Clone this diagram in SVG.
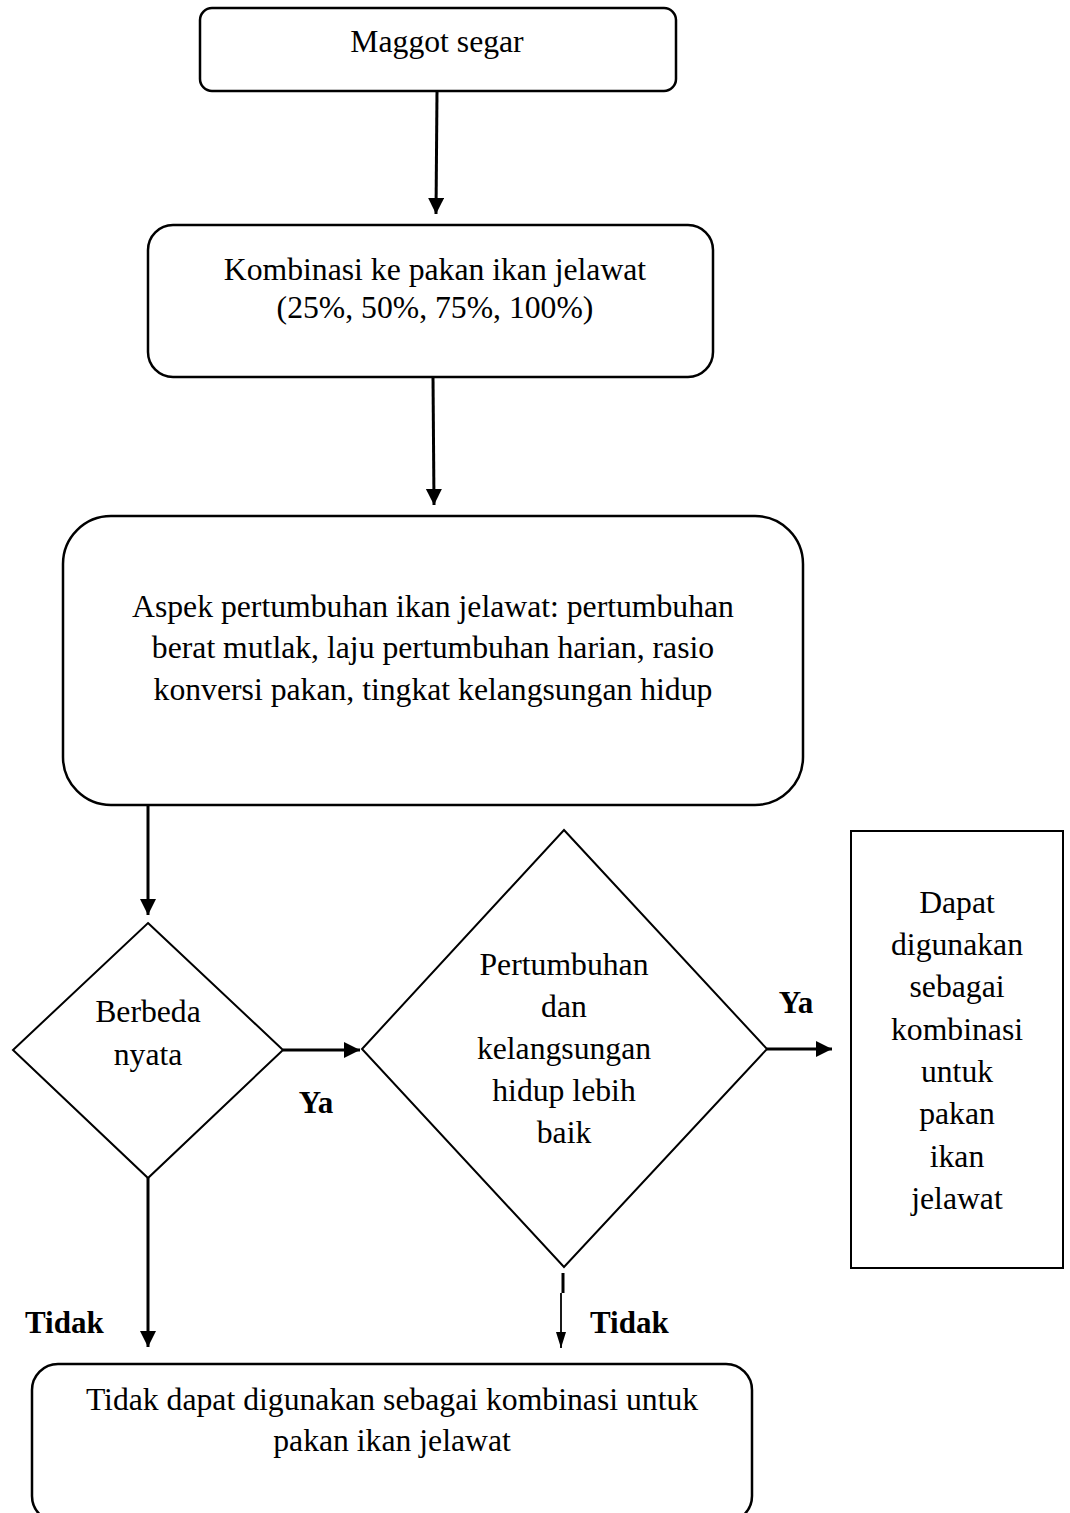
<svg xmlns="http://www.w3.org/2000/svg" width="1070" height="1513" viewBox="0 0 1070 1513">
<style>
  .box { fill: #fff; stroke: #000; stroke-width: 2.5; }
  .dia { fill: #fff; stroke: #000; stroke-width: 2; }
  .rect { fill: #fff; stroke: #000; stroke-width: 2; }
  .t { font-family: "Liberation Serif", "Times New Roman", serif; font-size: 31.7px; fill: #000; text-anchor: middle; }
  .b { font-family: "Liberation Serif", "Times New Roman", serif; font-size: 31px; font-weight: bold; fill: #000; }
  .c { stroke: #000; stroke-width: 3; fill: none; }
  .thin { stroke: #000; stroke-width: 1.8; fill: none; }
</style>
<defs>
  <marker id="ah" markerUnits="userSpaceOnUse" markerWidth="18" markerHeight="18" refX="16" refY="8" orient="auto">
    <path d="M0,0 L16,8 L0,16 Z" fill="#000"/>
  </marker>
  <marker id="ahs" markerUnits="userSpaceOnUse" markerWidth="18" markerHeight="12" refX="16" refY="5" orient="auto">
    <path d="M0,0 L16,5 L0,10 Z" fill="#000"/>
  </marker>
</defs>
<rect width="1070" height="1513" fill="#fff"/>

<g id="connectors">
  <line class="c" x1="437" y1="91" x2="436" y2="214" marker-end="url(#ah)"/>
  <line class="c" x1="433" y1="377" x2="434" y2="505" marker-end="url(#ah)"/>
  <line class="c" x1="148" y1="806" x2="148" y2="915" marker-end="url(#ah)"/>
  <line class="c" x1="283" y1="1050" x2="360" y2="1050" marker-end="url(#ah)"/>
  <line class="c" x1="767" y1="1049" x2="832" y2="1049" marker-end="url(#ah)"/>
  <line class="c" x1="148" y1="1178" x2="148" y2="1347" marker-end="url(#ah)"/>
  <line class="c" x1="563" y1="1273" x2="563" y2="1293"/>
  <line class="thin" x1="561" y1="1293" x2="561" y2="1348" marker-end="url(#ahs)"/>
</g>

<g id="node-maggot">
  <rect class="box" x="200" y="8" width="476" height="83" rx="12"/>
  <text class="t" x="437" y="52">Maggot segar</text>
</g>

<g id="node-kombinasi">
  <rect class="box" x="148" y="225" width="565" height="152" rx="25"/>
  <text class="t" x="435" y="280">Kombinasi ke pakan ikan jelawat</text>
  <text class="t" x="435" y="318">(25%, 50%, 75%, 100%)</text>
</g>

<g id="node-aspek">
  <rect class="box" x="63" y="516" width="740" height="289" rx="48"/>
  <text class="t" x="433" y="617">Aspek pertumbuhan ikan jelawat: pertumbuhan</text>
  <text class="t" x="433" y="658">berat mutlak, laju pertumbuhan harian, rasio</text>
  <text class="t" x="433" y="700">konversi pakan, tingkat kelangsungan hidup</text>
</g>

<g id="node-berbeda">
  <polygon class="dia" points="148,923 283,1050 148,1178 13,1050"/>
  <text class="t" x="148" y="1022">Berbeda</text>
  <text class="t" x="148" y="1065">nyata</text>
</g>

<g id="node-pertumbuhan">
  <polygon class="dia" points="564,830 767,1049 564,1267 362,1049"/>
  <text class="t" x="564" y="975">Pertumbuhan</text>
  <text class="t" x="564" y="1017">dan</text>
  <text class="t" x="564" y="1059">kelangsungan</text>
  <text class="t" x="564" y="1101">hidup lebih</text>
  <text class="t" x="564" y="1143">baik</text>
</g>

<g id="node-dapat">
  <rect class="rect" x="851" y="831" width="212" height="437"/>
  <text class="t" x="957" y="913">Dapat</text>
  <text class="t" x="957" y="955">digunakan</text>
  <text class="t" x="957" y="997">sebagai</text>
  <text class="t" x="957" y="1040">kombinasi</text>
  <text class="t" x="957" y="1082">untuk</text>
  <text class="t" x="957" y="1124">pakan</text>
  <text class="t" x="957" y="1167">ikan</text>
  <text class="t" x="957" y="1209">jelawat</text>
</g>

<g id="node-tidak-dapat">
  <rect class="box" x="32" y="1364" width="720" height="158" rx="26"/>
  <text class="t" x="392" y="1410">Tidak dapat digunakan sebagai kombinasi untuk</text>
  <text class="t" x="392" y="1451">pakan ikan jelawat</text>
</g>

<g id="labels">
  <text class="b" x="316" y="1113" text-anchor="middle">Ya</text>
  <text class="b" x="796" y="1013" text-anchor="middle">Ya</text>
  <text class="b" x="25" y="1333">Tidak</text>
  <text class="b" x="590" y="1333">Tidak</text>
</g>
</svg>
